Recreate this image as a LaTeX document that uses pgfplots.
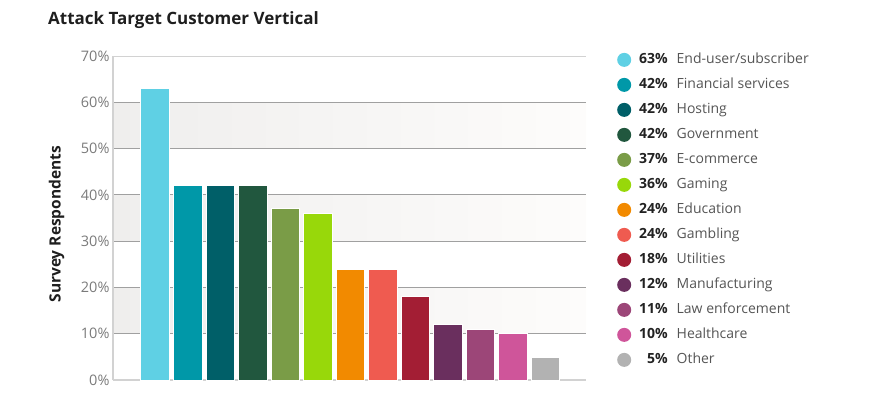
\documentclass[border=0pt]{standalone}
\usepackage{fontspec}
\setmainfont{Open Sans}
\usepackage{pgfplots}
\pgfplotsset{compat=1.18}
\definecolor{c1}{HTML}{5FD0E4}
\definecolor{c2}{HTML}{0098A8}
\definecolor{c3}{HTML}{005F68}
\definecolor{c4}{HTML}{21573E}
\definecolor{c5}{HTML}{7A9C47}
\definecolor{c6}{HTML}{98D80A}
\definecolor{c7}{HTML}{F28A00}
\definecolor{c8}{HTML}{EF5B50}
\definecolor{c9}{HTML}{A31E34}
\definecolor{c10}{HTML}{6A2F5E}
\definecolor{c11}{HTML}{9C4678}
\definecolor{c12}{HTML}{CF559A}
\definecolor{c13}{HTML}{B2B2B2}
\definecolor{bandgray}{HTML}{EFEEED}
\definecolor{bandend}{HTML}{FDFCFB}
\definecolor{gridgray}{HTML}{A0A0A0}
\definecolor{axgray}{HTML}{D2D2D2}
\definecolor{tickgray}{HTML}{7A7A7A}
\definecolor{labgray}{HTML}{555555}
\definecolor{pctcol}{HTML}{222222}
\definecolor{titlecol}{HTML}{1E1E1E}
\newcommand{\legtxt}[2]{\makebox[30.5pt][r]{\bfseries\color{pctcol}#1\%}\hspace{9pt}#2}
\begin{document}
\begin{tikzpicture}
\begin{axis}[
  set layers,
  at={(113pt,19pt)}, anchor=south west,
  scale only axis, width=473pt, height=324pt,
  xmin=-1.292, xmax=13.246, ymin=0, ymax=70,
  ybar, bar width=28.5pt,
  xtick=\empty,
  ytick={0,10,...,70},
  yticklabel={\pgfmathprintnumber{\tick}\%},
  /pgf/number format/assume math mode=true,
  yticklabel style={font=\fontsize{14.5}{16}\selectfont, text=tickgray},
  major tick length=0pt,
  axis line style={draw=none},
  ylabel={Survey Respondents},
  ylabel style={at={(axis description cs:-0.119,0.481)}, anchor=center, font=\bfseries\fontsize{15.5}{17}\selectfont, text=titlecol},
  title={Attack Target Customer Vertical},
  title style={at={(axis description cs:-0.1374,1.0802)}, anchor=base west, inner xsep=0pt, font=\bfseries\fontsize{17}{20}\selectfont, text=titlecol},
  every axis plot post/.append style={bar shift=0pt, draw=white, line width=0.6pt,
     legend image code/.code={\fill[##1, draw=none] (7pt,0pt) circle (7pt);}},
  legend style={at={(axis description cs:1.0655,1.0103)}, anchor=north west, draw=none, fill=none,
     inner sep=0pt, row sep=11pt, column sep=6pt, font=\fontsize{14}{16}\selectfont,
     nodes={inner xsep=0pt, inner ysep=0pt, text height=10pt, text depth=3pt, text=labgray}},
  legend cell align=left,
]
\begin{pgfonlayer}{axis background}
\pgfplotsinvokeforeach{10,30,50}{
  \fill[left color=bandgray, middle color=bandgray, right color=bandend] (axis cs:-1.292,#1) rectangle (axis cs:13.246,#1+10);
}
\pgfplotsinvokeforeach{10,20,30,40,50,60}{
  \draw[gridgray, line width=1pt] (axis cs:-1.292,#1) -- (axis cs:13.246,#1);
}
\draw[axgray, line width=1pt] (axis cs:-1.292,70) -- (axis cs:13.246,70);
\draw[axgray, line width=1.2pt] (axis cs:-1.292,0) -- (axis cs:13.246,0);
\draw[axgray, line width=1.2pt] (axis cs:-1.292,0) -- (axis cs:-1.292,70);
\end{pgfonlayer}
\addplot[fill=c1] coordinates {(0,63)}; \addlegendentry{\legtxt{63}{End-user/subscriber}}
\addplot[fill=c2] coordinates {(1,42)}; \addlegendentry{\legtxt{42}{Financial services}}
\addplot[fill=c3] coordinates {(2,42)}; \addlegendentry{\legtxt{42}{Hosting}}
\addplot[fill=c4] coordinates {(3,42)}; \addlegendentry{\legtxt{42}{Government}}
\addplot[fill=c5] coordinates {(4,37)}; \addlegendentry{\legtxt{37}{E-commerce}}
\addplot[fill=c6] coordinates {(5,36)}; \addlegendentry{\legtxt{36}{Gaming}}
\addplot[fill=c7] coordinates {(6,24)}; \addlegendentry{\legtxt{24}{Education}}
\addplot[fill=c8] coordinates {(7,24)}; \addlegendentry{\legtxt{24}{Gambling}}
\addplot[fill=c9] coordinates {(8,18)}; \addlegendentry{\legtxt{18}{Utilities}}
\addplot[fill=c10] coordinates {(9,12)}; \addlegendentry{\legtxt{12}{Manufacturing}}
\addplot[fill=c11] coordinates {(10,11)}; \addlegendentry{\legtxt{11}{Law enforcement}}
\addplot[fill=c12] coordinates {(11,10)}; \addlegendentry{\legtxt{10}{Healthcare}}
\addplot[fill=c13] coordinates {(12,5)}; \addlegendentry{\legtxt{5}{Other}}
\end{axis}
\path (0,0) rectangle (880pt,399pt);
\end{tikzpicture}
\end{document}
